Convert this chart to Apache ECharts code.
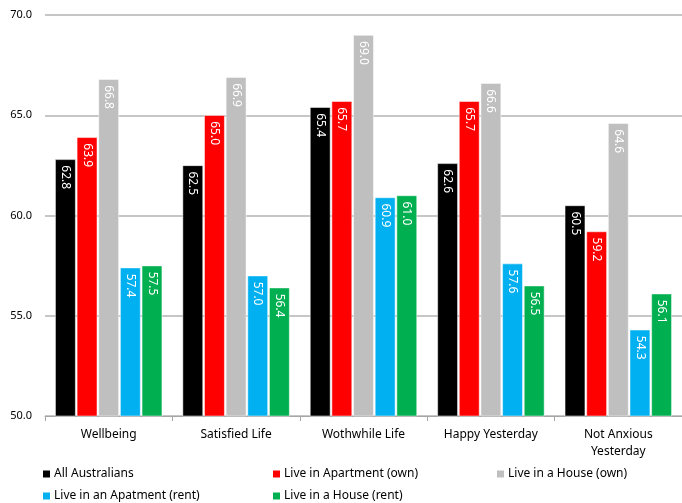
<!DOCTYPE html>
<html>
<head>
<meta charset="utf-8">
<script src="https://cdn.jsdelivr.net/npm/echarts@6/dist/echarts.min.js"></script>
<style>
  html, body { margin: 0; padding: 0; background: #fff; }
  #main { width: 682px; height: 503px; }
</style>
</head>
<body>
<div id="main"></div>
<script>
var categories = ['Wellbeing', 'Satisfied Life', 'Wothwhile Life', 'Happy Yesterday', 'Not Anxious\nYesterday'];
var seriesNames = ['All Australians', 'Live in Apartment (own)', 'Live in a House (own)', 'Live in an Apatment (rent)', 'Live in a House (rent)'];
var allAustralians = [62.8, 62.5, 65.4, 62.6, 60.5];
var apartmentOwn = [63.9, 65.0, 65.7, 65.7, 59.2];
var houseOwn = [66.8, 66.9, 69.0, 66.6, 64.6];
var apartmentRent = [57.4, 57.0, 60.9, 57.6, 54.3];
var houseRent = [57.5, 56.4, 61.0, 56.5, 56.1];
var colors = ['#000000', '#ff0000', '#bfbfbf', '#00b0f0', '#00b050'];

var font = 'Noto Sans';
var values = [allAustralians, apartmentOwn, houseOwn, apartmentRent, houseRent];

// 图例位置（两行）
var legendPos = [[36, 463], [266, 463], [490, 463], [36, 485], [266, 485]];

var myChart = echarts.init(document.getElementById('main'));

var option = {
  animation: false,
  color: colors,
  grid: { left: 45, right: -4, top: 15, bottom: 87 },
  legend: seriesNames.map(function (n, i) {
    return {
      data: [n],
      left: legendPos[i][0],
      top: legendPos[i][1],
      itemWidth: 9,
      itemHeight: 9,
      itemGap: 4,
      icon: 'rect',
      textStyle: { fontFamily: font, fontSize: 12, color: '#000', padding: [0, 0, 0, -2] }
    };
  }),
  xAxis: {
    type: 'category',
    data: categories,
    axisLine: { lineStyle: { color: '#a6a6a6', width: 1 } },
    axisTick: { show: true, length: 5, lineStyle: { color: '#a6a6a6' } },
    axisLabel: { fontFamily: font, fontSize: 12, color: '#000', margin: 10, lineHeight: 17 }
  },
  yAxis: {
    type: 'value',
    min: 50,
    max: 70,
    interval: 5,
    axisLine: { show: false },
    axisTick: { show: false },
    splitLine: { lineStyle: { color: '#b3b3b3', width: 1.5 } },
    axisLabel: {
      fontFamily: font, fontSize: 11, color: '#000', margin: 13,
      formatter: function (v) { return v.toFixed(1); }
    }
  },
  series: seriesNames.map(function (n, i) {
    return {
      name: n,
      type: 'bar',
      data: values[i],
      barGap: '6%',
      barCategoryGap: '16%',
      itemStyle: { borderColor: '#fff', borderWidth: 0.5 },
      label: {
        show: true,
        position: 'insideTop',
        rotate: -90,
        align: 'left',
        verticalAlign: 'middle',
        distance: 6,
        color: '#fff',
        fontFamily: font,
        fontSize: 12,
        formatter: function (p) { return p.value.toFixed(1); }
      }
    };
  })
};

myChart.setOption(option);
</script>
</body>
</html>
